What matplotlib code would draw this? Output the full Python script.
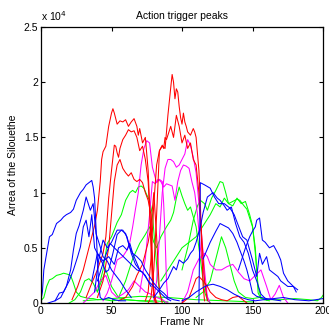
import matplotlib
matplotlib.use('Agg')
import matplotlib.pyplot as plt
from matplotlib.ticker import FuncFormatter

plt.rcParams['font.family'] = ['Liberation Sans', 'DejaVu Sans']

# area of the silhouette per frame, in units of 1e4
red_curves = [
    ([74, 76, 78, 80, 82, 84, 86, 88, 90, 92, 93, 94, 95, 96, 97, 98, 99, 100, 101, 102, 103, 104, 106, 108, 109, 110, 111, 112, 113, 114, 115, 116],
     [0.02, 0.1, 0.4, 0.9, 1.25, 1.38, 1.42, 1.40, 1.7, 1.95, 2.07, 2.0, 1.85, 1.94, 1.91, 1.78, 1.68, 1.62, 1.72, 1.64, 1.6, 1.55, 1.52, 1.58, 1.55, 1.5, 1.35, 1.2, 0.9, 0.5, 0.15, 0.02]),
    ([76, 78, 80, 82, 84, 86, 87, 88, 89, 90, 92, 94, 96, 98, 100, 102, 104, 106, 108, 110, 112, 114, 116, 118],
     [0.0, 0.05, 0.3, 0.8, 1.38, 1.43, 1.4, 1.5, 1.48, 1.52, 1.6, 1.5, 1.7, 1.6, 1.45, 1.52, 1.4, 1.45, 1.3, 1.25, 1.0, 0.6, 0.2, 0.02]),
    ([22, 26, 30, 34, 38, 40, 42, 43, 44, 46, 48, 50, 51, 52, 54, 56, 58, 60, 62, 64, 66, 68, 69, 70, 72, 74, 76, 77, 78, 79, 80, 82],
     [0.03, 0.15, 0.3, 0.5, 0.7, 0.84, 1.1, 1.3, 1.37, 1.42, 1.6, 1.72, 1.76, 1.72, 1.62, 1.65, 1.64, 1.66, 1.6, 1.64, 1.67, 1.6, 1.52, 1.58, 1.45, 1.5, 1.2, 0.9, 0.5, 0.2, 0.05, 0.0]),
    ([32, 36, 40, 44, 46, 48, 50, 52, 53, 54, 55, 56, 58, 60, 62, 64, 66, 68, 70, 72, 74, 76, 78, 80, 81, 83],
     [0.05, 0.18, 0.3, 0.45, 0.6, 0.95, 1.2, 1.43, 1.42, 1.36, 1.32, 1.4, 1.48, 1.52, 1.57, 1.55, 1.56, 1.5, 1.38, 1.42, 1.3, 1.1, 0.6, 0.1, 0.0, 0.0]),
    ([40, 44, 48, 50, 52, 54, 56, 58, 60, 62, 64, 66, 68, 70, 72, 74, 76, 78, 79, 80, 82],
     [0.05, 0.2, 0.5, 0.8, 1.1, 1.25, 1.3, 1.22, 1.18, 1.15, 1.18, 1.12, 1.1, 1.12, 1.09, 1.0, 0.93, 0.8, 0.4, 0.1, 0.0]),
    ([55, 60, 65, 68, 70, 72, 74, 76, 78, 80, 82, 84, 86],
     [0.02, 0.05, 0.15, 0.25, 0.3, 0.35, 0.45, 0.55, 0.7, 1.0, 0.6, 0.1, 0.0]),
    ([100, 105, 108, 110, 112, 115, 118, 120, 124, 128, 132, 136, 140, 144, 146],
     [0.0, 0.05, 0.15, 0.22, 0.24, 0.2, 0.15, 0.1, 0.05, 0.03, 0.02, 0.05, 0.06, 0.02, 0.0]),
]

magenta_curves = [
    ([44, 47, 50, 54, 58, 61, 63, 65, 67, 69, 71, 73, 75, 77, 79, 82, 84, 86, 87, 88, 89, 90],
     [0.02, 0.09, 0.2, 0.39, 0.42, 0.48, 0.55, 0.69, 0.85, 1.0, 1.25, 1.4, 1.47, 1.45, 1.23, 1.09, 1.12, 1.1, 0.9, 0.6, 0.2, 0.03]),
    ([80, 82, 84, 86, 88, 90, 92, 94, 96, 98, 100, 102, 104, 106, 108, 110, 112, 114, 116, 118, 120],
     [0.02, 0.2, 0.6, 1.0, 1.22, 1.3, 1.3, 1.28, 1.23, 1.25, 1.3, 1.35, 1.48, 1.43, 1.32, 1.18, 0.9, 0.6, 0.3, 0.05, 0.0]),
    ([70, 74, 77, 79, 81, 83, 85, 87, 89, 91, 93, 95, 97, 99, 101, 103, 105, 107, 109, 111, 113, 115, 117, 119],
     [0.1, 0.4, 0.8, 1.1, 1.08, 1.12, 1.1, 1.05, 1.08, 1.07, 1.06, 0.93, 1.1, 1.2, 1.25, 1.24, 1.22, 1.1, 1.0, 0.8, 0.5, 0.3, 0.1, 0.02]),
    ([100, 104, 108, 112, 116, 118, 120, 124, 128, 132, 136, 140, 144, 148, 152, 156, 160, 163, 166, 169, 172, 175],
     [0.0, 0.1, 0.3, 0.4, 0.45, 0.42, 0.35, 0.3, 0.3, 0.33, 0.35, 0.28, 0.22, 0.2, 0.25, 0.3, 0.15, 0.03, 0.08, 0.16, 0.05, 0.0]),
    ([30, 34, 38, 42, 46, 50, 54, 58, 62, 66, 70, 74, 78, 82, 86, 90],
     [0.0, 0.05, 0.1, 0.2, 0.25, 0.1, 0.05, 0.08, 0.12, 0.2, 0.15, 0.1, 0.08, 0.05, 0.03, 0.0]),
]

green_curves = [
    ([40, 44, 47, 50, 54, 57, 60, 63, 65, 67, 69, 71, 73, 75, 77, 79, 81, 83, 85, 88],
     [0.1, 0.3, 0.54, 0.6, 0.73, 0.8, 0.93, 1.0, 1.02, 1.0, 1.05, 1.06, 1.04, 0.98, 0.93, 0.8, 0.5, 0.2, 0.05, 0.0]),
    ([55, 60, 65, 70, 74, 77, 80, 82, 85, 89, 92, 94, 96, 98, 100, 102, 104, 106, 108, 110, 112, 114, 116, 118, 120],
     [0.05, 0.2, 0.4, 0.54, 0.62, 0.69, 0.55, 0.5, 0.6, 0.69, 0.75, 0.82, 0.95, 1.05, 0.97, 0.9, 0.84, 0.87, 0.78, 0.69, 0.5, 0.3, 0.1, 0.03, 0.0]),
    ([100, 104, 108, 111, 113, 116, 118, 121, 124, 127, 129, 131, 133, 136, 139, 141, 144, 146, 148, 150, 152, 154, 156, 160],
     [0.3, 0.5, 0.75, 0.88, 0.93, 0.9, 0.84, 0.95, 1.02, 1.1, 1.09, 1.0, 0.9, 0.92, 0.94, 0.93, 0.88, 0.85, 0.77, 0.69, 0.5, 0.09, 0.04, 0.03]),
    ([85, 90, 95, 100, 105, 110, 115, 120, 124, 127, 130, 133, 136, 139, 142, 145, 148, 150, 152, 154, 156, 158, 162],
     [0.2, 0.3, 0.4, 0.5, 0.55, 0.6, 0.7, 0.8, 0.9, 0.87, 0.95, 0.9, 0.88, 0.95, 0.9, 0.92, 0.8, 0.7, 0.45, 0.15, 0.05, 0.03, 0.02]),
    ([110, 115, 120, 125, 128, 131, 134, 137, 140, 145, 150, 155, 160, 170, 180, 190, 196, 199, 200],
     [0.05, 0.1, 0.2, 0.45, 0.6, 0.5, 0.35, 0.2, 0.1, 0.05, 0.04, 0.05, 0.03, 0.03, 0.04, 0.03, 0.02, 0.05, 0.07]),
    ([0, 2, 4, 6, 8, 11, 14, 16, 19, 21, 23, 25, 28, 31, 34, 37, 40, 45, 50, 60, 70, 80, 90],
     [0.02, 0.05, 0.15, 0.21, 0.22, 0.25, 0.26, 0.27, 0.26, 0.25, 0.18, 0.1, 0.06, 0.05, 0.04, 0.04, 0.03, 0.03, 0.02, 0.03, 0.02, 0.02, 0.01]),
    ([20, 24, 28, 31, 34, 37, 40, 43, 46, 50, 55, 60, 70, 80],
     [0.0, 0.03, 0.1, 0.2, 0.22, 0.18, 0.1, 0.2, 0.3, 0.15, 0.05, 0.03, 0.02, 0.01]),
    ([30, 50, 70, 90, 110, 130, 150],
     [0.02, 0.04, 0.06, 0.05, 0.03, 0.02, 0.01]),
]

blue_curves = [
    ([0, 1, 2, 4, 6, 8, 11, 14, 16, 18, 21, 23, 25, 28, 30, 32, 34, 36, 37, 38, 39, 40, 41, 42, 44, 48, 52, 56, 60],
     [0.03, 0.1, 0.3, 0.45, 0.6, 0.62, 0.72, 0.75, 0.78, 0.8, 0.82, 0.85, 0.93, 1.0, 1.03, 1.07, 1.09, 1.11, 1.05, 0.95, 0.69, 0.4, 0.15, 0.05, 0.03, 0.05, 0.03, 0.02, 0.02]),
    ([10, 14, 18, 21, 23, 25, 27, 30, 32, 34, 35, 37, 39, 41, 44, 47, 50, 53, 56, 60, 64],
     [0.02, 0.05, 0.15, 0.3, 0.48, 0.63, 0.7, 0.84, 0.96, 0.88, 0.84, 0.9, 0.63, 0.55, 0.42, 0.38, 0.3, 0.25, 0.2, 0.12, 0.05]),
    ([5, 10, 13, 16, 20, 23, 26, 28, 30, 32, 34, 36, 38, 40, 42, 44, 46, 48, 51, 54, 57, 60, 63, 66, 70],
     [0.0, 0.02, 0.09, 0.1, 0.2, 0.3, 0.42, 0.51, 0.69, 0.75, 0.6, 0.8, 0.5, 0.45, 0.4, 0.35, 0.28, 0.3, 0.45, 0.62, 0.66, 0.63, 0.5, 0.42, 0.3]),
    ([36, 40, 44, 48, 52, 55, 58, 61, 63, 65, 68, 71, 74, 77, 80, 84, 87, 90, 94, 98],
     [0.2, 0.45, 0.38, 0.42, 0.35, 0.5, 0.52, 0.48, 0.54, 0.45, 0.42, 0.38, 0.3, 0.24, 0.18, 0.12, 0.09, 0.05, 0.03, 0.02]),
    ([80, 84, 87, 90, 94, 96, 98, 101, 104, 106, 108, 110, 113, 115, 118, 120, 122, 125, 127, 130, 132, 135, 138, 141, 144, 147, 150, 153, 156, 160],
     [0.05, 0.12, 0.18, 0.22, 0.33, 0.3, 0.39, 0.36, 0.4, 0.45, 0.48, 0.55, 0.69, 0.82, 0.96, 0.98, 1.0, 0.95, 0.93, 0.88, 0.84, 0.87, 0.72, 0.6, 0.55, 0.45, 0.3, 0.2, 0.08, 0.03]),
    ([112, 113, 116, 120, 123, 126, 130, 134, 137, 140, 143, 146, 150, 153, 155, 157, 160, 162, 165, 168, 170, 172, 175, 179, 182],
     [0.0, 1.09, 1.07, 1.04, 0.96, 0.9, 0.9, 0.86, 0.8, 0.7, 0.6, 0.57, 0.39, 0.24, 0.45, 0.35, 0.42, 0.3, 0.27, 0.24, 0.2, 0.18, 0.15, 0.15, 0.12]),
    ([140, 145, 148, 150, 152, 153, 155, 157, 159, 162, 165, 168, 170, 172, 175, 179, 181],
     [0.3, 0.5, 0.6, 0.65, 0.69, 0.75, 0.77, 0.57, 0.55, 0.5, 0.52, 0.45, 0.39, 0.27, 0.2, 0.15, 0.1]),
    ([115, 120, 124, 127, 130, 133, 136, 139, 141, 144, 146, 148, 150, 153, 156, 160, 165, 170],
     [0.4, 0.55, 0.65, 0.72, 0.7, 0.68, 0.63, 0.55, 0.48, 0.38, 0.3, 0.2, 0.09, 0.06, 0.05, 0.04, 0.03, 0.02]),
    ([100, 105, 110, 115, 118, 122, 127, 132, 137, 142, 147, 152, 158, 165, 172, 180, 190, 200],
     [0.02, 0.05, 0.1, 0.14, 0.16, 0.17, 0.15, 0.12, 0.08, 0.05, 0.03, 0.02, 0.03, 0.04, 0.05, 0.03, 0.02, 0.04]),
    ([40, 45, 49, 52, 56, 60, 64, 68, 72, 76, 80, 84, 88, 92],
     [0.2, 0.4, 0.54, 0.5, 0.45, 0.4, 0.35, 0.3, 0.28, 0.2, 0.15, 0.1, 0.05, 0.02]),
    ([38, 41, 44, 47, 50, 54, 58, 61, 64, 67, 70, 74, 78],
     [0.1, 0.4, 0.57, 0.5, 0.55, 0.66, 0.66, 0.6, 0.45, 0.35, 0.3, 0.25, 0.15]),
]

colores = {'#ff0000': red_curves, '#ff00ff': magenta_curves,
           '#00ff00': green_curves, '#0000ff': blue_curves}

fig = plt.figure(figsize=(3.29, 3.34), dpi=100)
ax = fig.add_axes([41/329, 31/334, 282/329, 276/334])

for color in ['#00ff00', '#ff00ff', '#ff0000', '#0000ff']:
    for frames, area in colores[color]:
        ax.plot(frames, area, color=color, linewidth=0.75)

ax.set_xlim(0, 200)
ax.set_ylim(0, 2.5)
ax.set_xticks([0, 50, 100, 150, 200])
ax.set_yticks([0, 0.5, 1, 1.5, 2, 2.5])
ax.yaxis.set_major_formatter(FuncFormatter(lambda v, p: f"{v:g}"))
ax.tick_params(direction='in', length=3, top=True, right=True, labelsize=7.5, pad=2)
for s in ax.spines.values():
    s.set_linewidth(0.9)

ax.set_title("Action trigger peaks", fontsize=7.5, pad=6)
ax.set_xlabel("Frame Nr", fontsize=7.5, labelpad=1)
ax.set_ylabel("Arrea of the Silouethe", fontsize=7.5, labelpad=4)
ax.text(0.0, 1.015, r"x 10$^4$", transform=ax.transAxes, fontsize=7.5, ha='left', va='bottom')

fig.savefig("out.png", dpi=100)
